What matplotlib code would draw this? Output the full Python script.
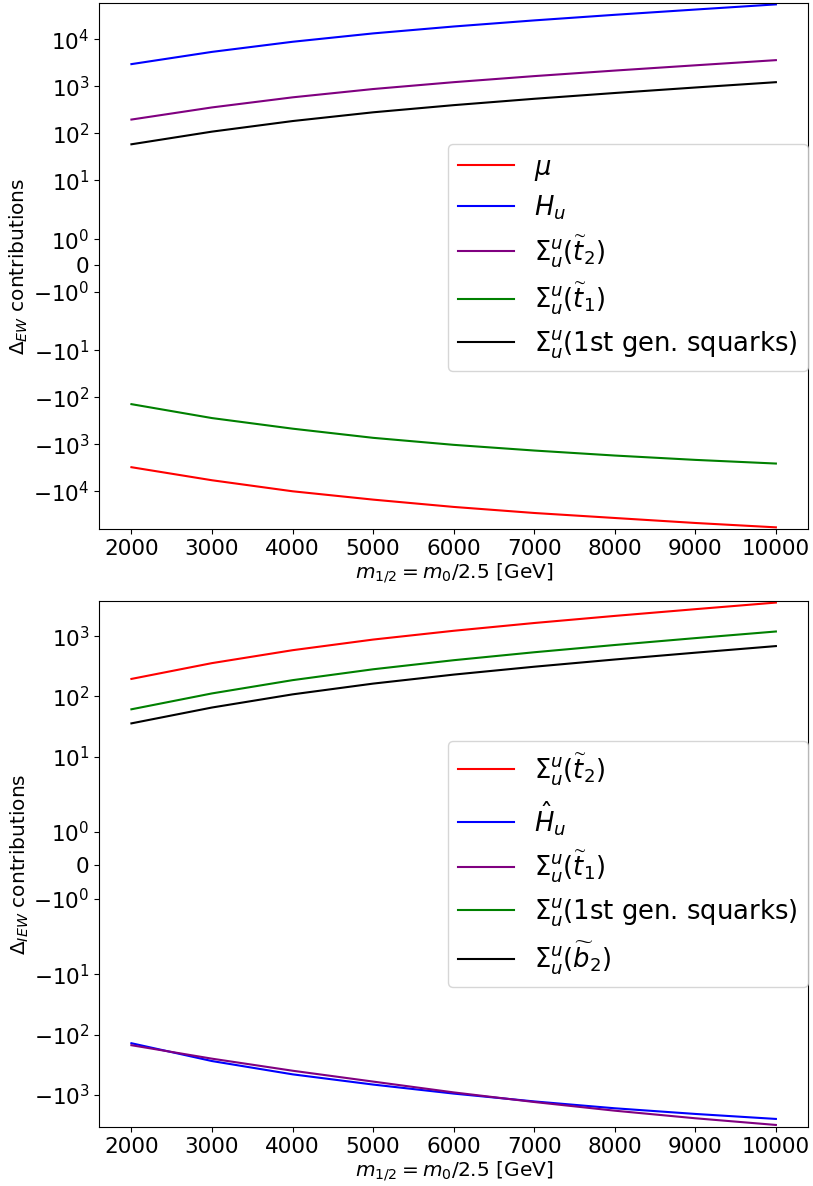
import numpy as np
import matplotlib
matplotlib.use('Agg')
import matplotlib.pyplot as plt
from matplotlib.ticker import NullLocator

# x values: m_1/2 in GeV
m_half = [2000, 3000, 4000, 5000, 6000, 7000, 8000, 9000, 10000]

# top panel: Delta_EW contributions
top_mu = [-3055, -5790, -9940, -14960, -21400, -28800, -36800, -47000, -58200]
top_Hu = [2980, 5430, 8910, 13430, 18840, 25410, 33420, 43250, 55700]
top_t2 = [197, 357, 585, 879, 1230, 1656, 2173, 2812, 3622]
top_t1 = [-139, -275, -462, -724, -1021, -1349, -1725, -2134, -2553]
top_sq = [58.6, 109, 183, 281, 399, 545, 724, 948, 1230]

# bottom panel: Delta_IEW contributions
bot_t2 = [195, 357, 585, 879, 1230, 1656, 2173, 2812, 3620]
bot_Hu = [-139, -275, -457, -676, -955, -1288, -1675, -2080, -2518]
bot_t1 = [-150, -251, -398, -603, -912, -1318, -1837, -2455, -3170]
bot_sq = [61, 112, 186, 282, 399, 541, 714, 929, 1197]
bot_b2 = [35.6, 65.3, 108, 163, 230, 311, 410, 532, 685]

top_ticks = [1e4, 1e3, 1e2, 1e1, 1, 0, -1, -1e1, -1e2, -1e3, -1e4]
bot_ticks = [1e3, 1e2, 1e1, 1, 0, -1, -1e1, -1e2, -1e3]

FS = 14.5
plt.rcParams['font.size'] = FS

fig = plt.figure(figsize=(8.13, 11.86), dpi=100)
ax1 = fig.add_axes([0.122, 0.554, 0.872, 0.4435])
ax2 = fig.add_axes([0.122, 0.0498, 0.872, 0.4432])

ax1.plot(m_half, top_mu, color='red', label=r'$\mu$')
ax1.plot(m_half, top_Hu, color='blue', label=r'$H_u$')
ax1.plot(m_half, top_t2, color='purple', label=r'$\Sigma_u^u(\widetilde{t}_2)$')
ax1.plot(m_half, top_t1, color='green', label=r'$\Sigma_u^u(\widetilde{t}_1)$')
ax1.plot(m_half, top_sq, color='black', label=r'$\Sigma_u^u$(1st gen. squarks)')

ax2.plot(m_half, bot_t2, color='red', label=r'$\Sigma_u^u(\widetilde{t}_2)$')
ax2.plot(m_half, bot_Hu, color='blue', label=r'$\hat{H}_u$')
ax2.plot(m_half, bot_t1, color='purple', label=r'$\Sigma_u^u(\widetilde{t}_1)$')
ax2.plot(m_half, bot_sq, color='green', label=r'$\Sigma_u^u$(1st gen. squarks)')
ax2.plot(m_half, bot_b2, color='black', label=r'$\Sigma_u^u(\widetilde{b}_2)$')

for ax, ticks, ylab, ylim, lgy in [
        (ax1, top_ticks, r'$\Delta_{EW}$ contributions', (-6.3e4, 5.97e4), 0.516),
        (ax2, bot_ticks, r'$\Delta_{IEW}$ contributions', (-3420, 3800), 0.5)]:
    ax.set_yscale('symlog', linthresh=2)
    ax.set_yticks(ticks)
    ax.yaxis.set_minor_locator(NullLocator())
    ax.set_ylim(*ylim)
    ax.set_xlim(1600, 10400)
    ax.set_xticks(range(2000, 10001, 1000))
    ax.set_ylabel(ylab, fontsize=FS, labelpad=2)
    ax.set_xlabel(r'$m_{1/2} = m_0/2.5$ [GeV]', fontsize=FS, labelpad=2)
    ax.tick_params(labelsize=15.5)
    ax.legend(loc='center right', bbox_to_anchor=(1.0, lgy), borderaxespad=0,
              fontsize=18.6, handlelength=2.15, labelspacing=0.42)

fig.savefig('out.png', dpi=100)
